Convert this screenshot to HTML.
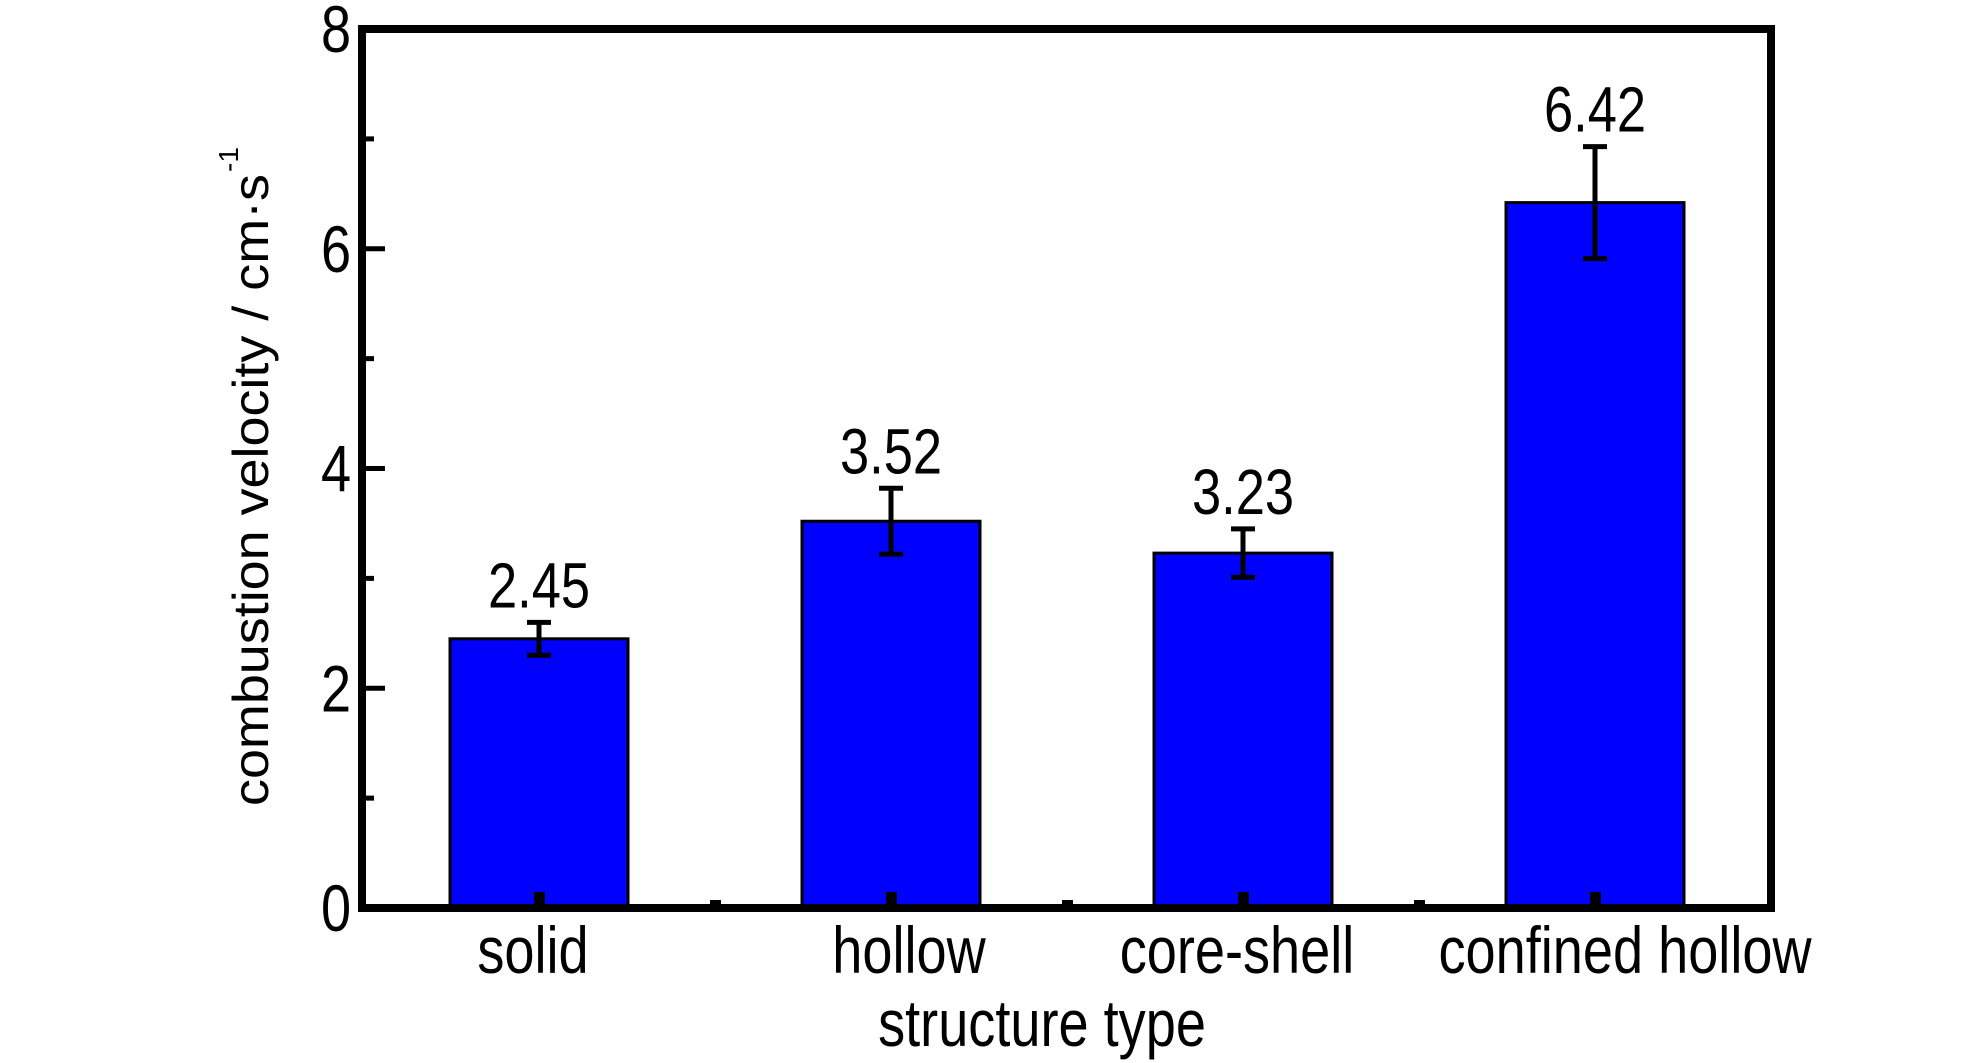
<!DOCTYPE html>
<html><head><meta charset="utf-8"><style>
html,body{margin:0;padding:0;background:#fff;}
svg{display:block;}
text{font-family:"Liberation Sans",sans-serif;fill:#000;}
</style></head><body>
<svg id="chart" width="1984" height="1063" viewBox="0 0 1984 1063" xmlns="http://www.w3.org/2000/svg"></svg>
<script>
const categories = ["solid", "hollow", "core-shell", "confined hollow"];
const values = [2.45, 3.52, 3.23, 6.42];
const errors = [0.15, 0.30, 0.22, 0.51];
const valueLabels = ["2.45", "3.52", "3.23", "6.42"];
const yTicks = [0, 2, 4, 6, 8];
const yMinorTicks = [1, 3, 5, 7];

const L = 362, R = 1771, T = 29, B = 908;
const yMin = 0, yMax = 8;
const firstCenter = 539, step = 352, barW = 178;
function y(v){ return B - (v - yMin) / (yMax - yMin) * (B - T); }
function x(i){ return firstCenter + i * step; }

const svg = document.getElementById('chart');
const NS = 'http://www.w3.org/2000/svg';
function mk(tag, attrs, parent){
  const e = document.createElementNS(NS, tag);
  for (const k in attrs) e.setAttribute(k, attrs[k]);
  (parent || svg).appendChild(e);
  return e;
}
function condText(str, cx, by, size, sx, parent){
  const g = mk('g', {transform: 'translate(' + cx + ',' + by + ') scale(' + sx + ',1)'}, parent);
  const t = mk('text', {x: 0, y: 0, 'font-size': size, 'text-anchor': 'middle'}, g);
  t.textContent = str;
  return g;
}

// bars
const barsG = mk('g', {});


values.forEach((v, i) => {
  const r = mk('rect', {x: x(i) - barW/2, y: y(v), width: barW, height: y(0) - y(v), fill: '#0000ff', stroke: '#000', 'stroke-width': 3}, barsG);
  
  
});

// error bars
values.forEach((v, i) => {
  const g = mk('g', {stroke: '#000', 'stroke-width': 5});
  
  
  const cx = x(i), t = y(v + errors[i]), b = y(v - errors[i]);
  mk('line', {x1: cx, y1: t, x2: cx, y2: b}, g);
  mk('line', {x1: cx - 12, y1: t, x2: cx + 12, y2: t}, g);
  mk('line', {x1: cx - 12, y1: b, x2: cx + 12, y2: b}, g);
});

// value labels
values.forEach((v, i) => {
  const g = condText(valueLabels[i], x(i), y(v + errors[i]) - 15, 64, 0.82);
  
  
});

// frame
const frame = mk('rect', {x: L, y: T, width: R - L, height: B - T, fill: 'none', stroke: '#000', 'stroke-width': 8});



// y ticks
yTicks.forEach(v => {
  if (v > yMin && v < yMax) {
    const tk = mk('line', {x1: L, y1: y(v), x2: L + 23, y2: y(v), stroke: '#000', 'stroke-width': 5});
    
    
  }
  const g = condText(String(v), 336, y(v) + 23, 66, 0.82);
  
  
});
yMinorTicks.forEach(v => {
  const tk = mk('line', {x1: L, y1: y(v), x2: L + 12, y2: y(v), stroke: '#000', 'stroke-width': 5});
  
  
});

// x ticks
categories.forEach((c, i) => {
  const tk = mk('rect', {x: x(i) - 5, y: B - 16, width: 11, height: 14, fill: '#000'});
  
  
  if (i < categories.length - 1) {
    const m = mk('rect', {x: x(i) + step/2 - 5, y: B - 8, width: 11, height: 5, fill: '#000'});
    
    
  }
  const g = condText(c, x(i) + (i === 3 ? 30 : (i === 1 ? 18 : -6)), 973, 66, 0.82);
  
  
});

// axis titles
const xt = condText('structure type', 1042, 1046, 66, 0.82);



const yt = mk('g', {transform: 'translate(268,806) rotate(-90)'});


const ytt = mk('text', {x: 0, y: 0, 'font-size': 50, textLength: 632, lengthAdjust: 'spacingAndGlyphs'}, yt);
ytt.textContent = 'combustion velocity / cm·s';
const sup = mk('text', {x: 634, y: -30, 'font-size': 28}, yt);
sup.textContent = '-1';
</script>
</body></html>
